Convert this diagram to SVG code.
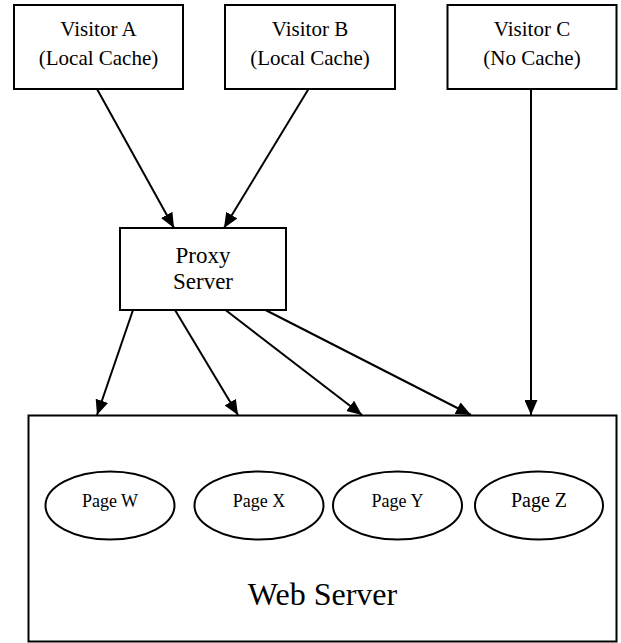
<svg xmlns="http://www.w3.org/2000/svg" width="621" height="643" viewBox="0 0 621 643">
  <defs>
    <marker id="arrow" markerUnits="userSpaceOnUse" markerWidth="16" markerHeight="13" refX="15" refY="6.5" orient="auto">
      <path d="M0,0 L15,6.5 L0,13 z" fill="#000"/>
    </marker>
    <style>
      .box { fill: #fff; stroke: #000; stroke-width: 2; }
      .page { fill: #fff; stroke: #000; stroke-width: 2; }
      .lbl { font-family: "Liberation Serif", "Times New Roman", serif; fill: #000; text-anchor: middle; }
      .edge { fill: none; stroke: #000; stroke-width: 2; marker-end: url(#arrow); }
    </style>
  </defs>
  <rect width="621" height="643" fill="#fff"/>

  <!-- Web server container with cached pages -->
  <g id="web-server">
    <rect class="box" x="28.5" y="415.5" width="588" height="226"/>
    <text class="lbl" x="322.5" y="605" font-size="32">Web Server</text>
  </g>
  <g id="page-w">
    <ellipse class="page" cx="110" cy="505.5" rx="64.5" ry="34"/>
    <text class="lbl" x="110" y="507" font-size="18">Page W</text>
  </g>
  <g id="page-x">
    <ellipse class="page" cx="259" cy="505.5" rx="64.5" ry="34"/>
    <text class="lbl" x="259" y="507" font-size="18">Page X</text>
  </g>
  <g id="page-y">
    <ellipse class="page" cx="397.5" cy="505.5" rx="64.5" ry="34"/>
    <text class="lbl" x="397.5" y="507" font-size="18">Page Y</text>
  </g>
  <g id="page-z">
    <ellipse class="page" cx="539" cy="505.5" rx="64" ry="34"/>
    <text class="lbl" x="539" y="507" font-size="20">Page Z</text>
  </g>

  <!-- Visitors -->
  <g id="visitor-a">
    <rect class="box" x="14" y="5" width="169" height="84"/>
    <text class="lbl" x="98.5" y="36" font-size="21">Visitor A</text>
    <text class="lbl" x="98.5" y="65" font-size="21">(Local Cache)</text>
  </g>
  <g id="visitor-b">
    <rect class="box" x="225" y="5" width="170" height="84"/>
    <text class="lbl" x="310" y="36" font-size="21">Visitor B</text>
    <text class="lbl" x="310" y="65" font-size="21">(Local Cache)</text>
  </g>
  <g id="visitor-c">
    <rect class="box" x="447.5" y="5" width="169" height="84"/>
    <text class="lbl" x="532" y="36" font-size="21">Visitor C</text>
    <text class="lbl" x="532" y="65" font-size="21">(No Cache)</text>
  </g>

  <!-- Proxy -->
  <g id="proxy-server">
    <rect class="box" x="120" y="228" width="166" height="82"/>
    <text class="lbl" x="203" y="263" font-size="23">Proxy</text>
    <text class="lbl" x="203" y="288.5" font-size="23">Server</text>
  </g>

  <!-- Connectors -->
  <g id="connectors">
    <path class="edge" d="M97,89 L174,228"/>
    <path class="edge" d="M308.5,89 L224,228"/>
    <path class="edge" d="M531,89 L531,415"/>
    <path class="edge" d="M133,310 L97,415"/>
    <path class="edge" d="M175,310 L238,415"/>
    <path class="edge" d="M225.5,310 L362,415"/>
    <path class="edge" d="M265.5,310 L471,415"/>
  </g>
</svg>
